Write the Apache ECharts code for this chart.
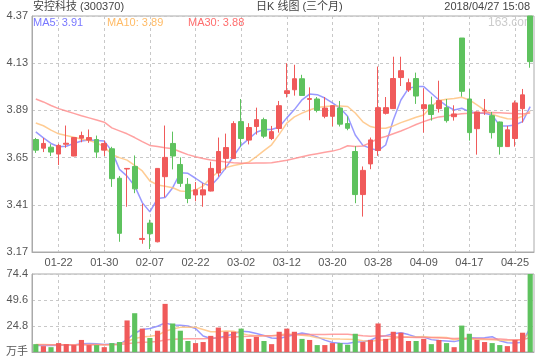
<!DOCTYPE html>
<html><head><meta charset="utf-8">
<script src="https://cdn.jsdelivr.net/npm/echarts@6/dist/echarts.min.js"></script>
<style>html,body{margin:0;padding:0;background:#fff}#c{width:540px;height:360px}</style>
</head><body><div id="c"></div>
<script>
const dates = ['01-17','01-18','01-19','01-22','01-23','01-24','01-25','01-26','01-29','01-30','01-31',
'02-01','02-02','02-05','02-06','02-07','02-08','02-09','02-12','02-13','02-14','02-22','02-23','02-26','02-27','02-28',
'03-01','03-02','03-05','03-06','03-07','03-08','03-09','03-12','03-13','03-14','03-15','03-16','03-19','03-20','03-21','03-22','03-23','03-26','03-27','03-28','03-29','03-30',
'04-02','04-03','04-04','04-09','04-10','04-11','04-12','04-13','04-16','04-17','04-18','04-19','04-20','04-23','04-24','04-25','04-26','04-27'];

const opens = [3.742,3.698,3.703,3.668,3.718,3.658,3.749,3.739,3.742,3.688,
3.695,3.545,3.592,3.605,3.234,3.317,3.222,3.553,3.722,3.615,
3.514,3.460,3.460,3.480,3.572,3.646,3.646,3.833,3.739,3.808,
3.843,3.747,3.798,3.976,3.995,4.051,3.946,3.948,3.860,3.860,
3.902,3.823,3.681,3.462,3.618,3.686,3.875,3.899,4.057,3.994,
4.052,3.899,3.918,3.899,3.904,3.858,4.258,3.948,3.797,3.887,
3.863,3.831,3.706,3.747,3.899,4.370];
const closes = [3.688,3.722,3.678,3.712,3.723,3.752,3.762,3.752,3.678,3.722,
3.543,3.265,3.595,3.491,3.239,3.263,3.595,3.651,3.658,3.519,
3.442,3.486,3.486,3.595,3.681,3.701,3.823,3.747,3.803,3.843,
3.759,3.782,3.914,3.990,4.051,3.966,3.950,3.890,3.902,3.914,
3.820,3.799,3.462,3.585,3.740,3.904,3.904,4.052,4.092,4.031,
3.963,3.919,3.869,3.940,3.838,3.872,3.987,3.777,3.882,3.891,
3.777,3.706,3.791,3.928,3.969,4.138];
const lows = [3.674,3.678,3.658,3.612,3.700,3.657,3.728,3.725,3.648,3.658,
3.501,3.222,3.400,3.469,3.212,3.185,3.219,3.448,3.590,3.501,
3.418,3.428,3.400,3.478,3.553,3.590,3.644,3.705,3.717,3.767,
3.749,3.739,3.777,3.956,3.965,3.966,3.840,3.880,3.850,3.809,
3.808,3.789,3.418,3.350,3.591,3.659,3.869,3.897,4.014,3.984,
3.923,3.777,3.838,3.879,3.828,3.838,3.960,3.736,3.665,3.867,
3.747,3.665,3.704,3.706,3.828,4.107];
const highs = [3.750,3.750,3.718,3.720,3.813,3.753,3.782,3.793,3.762,3.737,
3.705,3.556,3.597,3.661,3.416,3.334,3.597,3.813,3.782,3.651,
3.546,3.526,3.519,3.629,3.752,3.772,3.835,3.948,3.825,3.904,
3.853,3.811,3.938,4.130,4.122,4.071,4.007,3.958,3.958,3.916,
3.938,3.860,3.708,3.605,3.752,4.113,3.958,4.163,4.163,4.052,
4.082,4.002,3.960,4.041,3.948,3.916,4.258,3.999,3.884,3.948,
3.882,3.833,3.811,3.940,3.999,4.370];

const ma5 = [3.781,3.750,3.722,3.705,3.708,3.722,3.734,3.739,3.737,3.734,
3.683,3.590,3.556,3.506,3.421,3.374,3.442,3.447,3.497,3.573,
3.570,3.545,3.519,3.506,3.548,3.599,3.658,3.712,3.745,3.779,
3.793,3.793,3.806,3.852,3.894,3.944,3.973,3.970,3.953,3.928,
3.902,3.860,3.765,3.712,3.697,3.686,3.714,3.841,3.943,4.002,
4.011,4.011,3.977,3.943,3.913,3.892,3.901,3.884,3.875,3.875,
3.867,3.811,3.811,3.816,3.833,3.909];
const ma10 = [3.826,3.812,3.790,3.771,3.762,3.754,3.745,3.737,3.725,3.705,
3.666,3.650,3.637,3.610,3.582,3.531,3.511,3.504,3.497,3.480,
3.477,3.485,3.506,3.548,3.577,3.599,3.610,3.617,3.627,3.655,
3.685,3.715,3.768,3.825,3.857,3.876,3.892,3.905,3.910,3.912,
3.912,3.910,3.877,3.832,3.808,3.799,3.799,3.811,3.828,3.841,
3.855,3.867,3.910,3.940,3.947,3.950,3.957,3.943,3.918,3.892,
3.870,3.858,3.848,3.846,3.860,3.886];
const ma30 = [3.948,3.933,3.915,3.899,3.887,3.875,3.863,3.852,3.841,3.830,
3.801,3.786,3.771,3.752,3.731,3.712,3.706,3.700,3.695,3.680,
3.665,3.654,3.645,3.638,3.633,3.628,3.624,3.621,3.621,3.622,
3.623,3.624,3.630,3.637,3.645,3.654,3.663,3.670,3.677,3.683,
3.693,3.710,3.707,3.709,3.726,3.747,3.757,3.771,3.785,3.801,
3.818,3.833,3.846,3.857,3.862,3.868,3.873,3.875,3.877,3.878,
3.879,3.878,3.876,3.874,3.872,3.877];

const vol = [7.5,5.6,4.6,8.5,7.5,6.6,11.5,6.6,6.6,4.6,
8.5,9.5,30.1,37.0,22.3,13.4,20.3,45.9,27.2,20.3,
10.5,8.5,9.5,15.4,23.3,19.3,19.3,22.3,12.5,14.4,
10.5,7.5,19.3,22.3,19.3,12.5,11.5,6.6,6.6,8.5,
8.5,6.9,17.4,9.5,11.5,27.2,12.5,19.3,18.4,10.5,
10.5,12.5,7.5,11.5,8.5,4.6,25.2,17.4,11.5,9.5,
8.5,6.6,5.6,11.5,18.4,74.4];
const volMa5 = [6.3,6.3,6.2,6.4,6.7,6.6,7.8,8.0,7.8,7.2,
7.6,7.2,11.9,17.9,21.5,22.4,24.6,27.8,25.8,25.4,
24.8,22.4,15.2,12.8,13.5,15.2,17.2,19.9,19.3,17.6,
15.8,13.4,12.8,14.8,16.4,18.1,16.6,14.4,11.3,9.1,
8.3,8.2,9.6,9.8,11.2,14.5,15.6,17.4,18.4,16.6,
14.3,14.2,11.8,10.9,10.5,9.9,11.5,13.5,13.4,13.5,
14.6,10.7,8.9,8.5,9.4,23.3];
const volMa10 = [7.2,7.1,7.0,6.9,6.9,6.8,7.0,7.1,7.1,7.0,
7.1,7.5,10.0,12.9,14.3,15.0,15.9,19.8,21.9,23.5,
23.7,23.6,21.5,19.3,19.4,20.0,19.9,17.6,16.1,15.5,
15.5,15.4,16.4,17.1,16.7,16.0,15.2,13.6,13.1,12.5,
12.3,12.2,12.0,10.7,10.0,11.4,11.5,12.8,14.0,14.2,
14.4,14.9,13.9,14.1,13.8,11.6,12.9,12.7,12.0,11.9,
11.7,11.1,10.9,10.9,11.9,18.9];
const volMa30 = [6.9,6.9,6.9,6.8,6.8,6.8,6.9,6.9,6.9,6.9,
7.0,7.1,7.9,8.9,9.4,9.6,10.1,11.4,12.1,12.5,
12.6,12.6,12.7,13.0,13.5,13.9,14.3,14.8,15.0,15.3,
15.4,15.4,15.8,16.3,16.7,16.8,16.8,16.8,16.8,16.9,
16.9,16.9,16.3,15.5,15.1,15.6,15.3,14.6,14.3,14.0,
13.9,13.9,13.8,13.5,13.2,12.8,13.0,12.9,12.8,12.6,
12.5,12.3,11.9,11.8,11.7,13.8];

const priceTicks = [3.17, 3.41, 3.65, 3.89, 4.13, 4.37];
const volTicks = [0, 24.8, 49.6, 74.4];
const volUnit = '万手';
const stockTitle = '安控科技 (300370)';
const chartTitle = '日K 线图 (三个月)';
const timeStamp = '2018/04/27 15:08';
const watermark = '163.com';

const UP = '#f05a5a', DOWN = '#5ec25e';
const C5 = '#8080ff', C10 = '#ffbf78', C30 = '#ff8a8a';
const FONT = '"Liberation Sans", Arial, "Noto Sans CJK SC", sans-serif';
const lbl = { fontFamily: FONT, fontSize: 11, color: '#555' };
const every6 = (i) => (i - 3) % 6 === 0;
const dashed = { lineStyle: { color: '#c8c8c8', type: [3, 3], width: 1 } };

const chart = echarts.init(document.getElementById('c'), null, { renderer: 'canvas' });
const candle = dates.map((d, i) => [opens[i], closes[i], lows[i], highs[i]]);
const lineS = (name, data, color, xi, yi) => ({
  name, type: 'line', data, xAxisIndex: xi, yAxisIndex: yi, symbol: 'none', smooth: false, z: 1,
  lineStyle: { color, width: 1.5, opacity: 0.8 }, silent: true
});
const last = (a) => a[a.length - 1];

chart.setOption({
  animation: false,
  backgroundColor: '#fff',
  grid: [
    { left: 32, right: 6, top: 16, height: 236, show: true, borderColor: '#aaa', borderWidth: 1 },
    { left: 32, right: 6, top: 274, height: 78, show: true, borderColor: '#aaa', borderWidth: 1 }
  ],
  xAxis: [
    { type: 'category', data: dates, gridIndex: 0, boundaryGap: true,
      axisLine: { lineStyle: { color: '#aaa' } }, axisTick: { show: false },
      axisLabel: Object.assign({ interval: every6, margin: 5 }, lbl),
      splitLine: Object.assign({ show: true, interval: every6, alignWithLabel: true }, dashed) },
    { type: 'category', data: dates, gridIndex: 1, boundaryGap: true,
      axisLine: { lineStyle: { color: '#aaa' } }, axisTick: { show: false },
      axisLabel: { show: false },
      splitLine: Object.assign({ show: true, interval: every6, alignWithLabel: true }, dashed) }
  ],
  yAxis: [
    { type: 'value', gridIndex: 0, min: priceTicks[0], max: last(priceTicks),
      axisLine: { show: true, lineStyle: { color: '#aaa' } },
      axisTick: { show: false, customValues: priceTicks },
      axisLabel: Object.assign({ customValues: priceTicks, formatter: (v) => v.toFixed(2), margin: 4 }, lbl),
      splitLine: dashed },
    { type: 'value', gridIndex: 1, min: volTicks[0], max: last(volTicks),
      axisLine: { show: true, lineStyle: { color: '#aaa' } },
      axisTick: { show: false, customValues: volTicks },
      axisLabel: Object.assign({ customValues: volTicks, formatter: (v) => v === 0 ? volUnit : v.toFixed(1), margin: 4 }, lbl),
      splitLine: dashed }
  ],
  graphic: [
    { type: 'text', x: 33, y: 7, z: 10, style: { text: stockTitle, font: '11px ' + FONT, fill: '#444', verticalAlign: 'middle' } },
    { type: 'text', x: 256, y: 7, z: 10, style: { text: chartTitle, font: '11px ' + FONT, fill: '#444', verticalAlign: 'middle' } },
    { type: 'text', x: 530, y: 7, z: 10, style: { text: timeStamp, font: '11px ' + FONT, fill: '#444', align: 'right', verticalAlign: 'middle' } },
    { type: 'text', x: 33, y: 23, z: 10, style: { text: 'MA5: ' + last(ma5).toFixed(2), font: '11px ' + FONT, fill: '#7878ff', verticalAlign: 'middle' } },
    { type: 'text', x: 107, y: 23, z: 10, style: { text: 'MA10: ' + last(ma10).toFixed(2), font: '11px ' + FONT, fill: '#ffbb66', verticalAlign: 'middle' } },
    { type: 'text', x: 188, y: 23, z: 10, style: { text: 'MA30: ' + last(ma30).toFixed(2), font: '11px ' + FONT, fill: '#ff6e6e', verticalAlign: 'middle' } },
    { type: 'text', x: 488, y: 23, z: 0, style: { text: watermark, font: '12px ' + FONT, fill: '#cccccc', verticalAlign: 'middle' } }
  ],
  series: [
    lineS('MA5', ma5, C5, 0, 0),
    lineS('MA10', ma10, C10, 0, 0),
    lineS('MA30', ma30, C30, 0, 0),
    { type: 'candlestick', data: candle, xAxisIndex: 0, yAxisIndex: 0, barWidth: '68%', z: 3,
      itemStyle: { color: UP, color0: DOWN, borderColor: UP, borderColor0: DOWN, borderWidth: 1 } },
    lineS('VMA5', volMa5, C5, 1, 1),
    lineS('VMA10', volMa10, C10, 1, 1),
    lineS('VMA30', volMa30, C30, 1, 1),
    { type: 'bar', data: vol, xAxisIndex: 1, yAxisIndex: 1, barWidth: '68%', z: 3,
      itemStyle: { color: (p) => closes[p.dataIndex] >= opens[p.dataIndex] ? UP : DOWN } }
  ]
});
</script>
</body></html>
